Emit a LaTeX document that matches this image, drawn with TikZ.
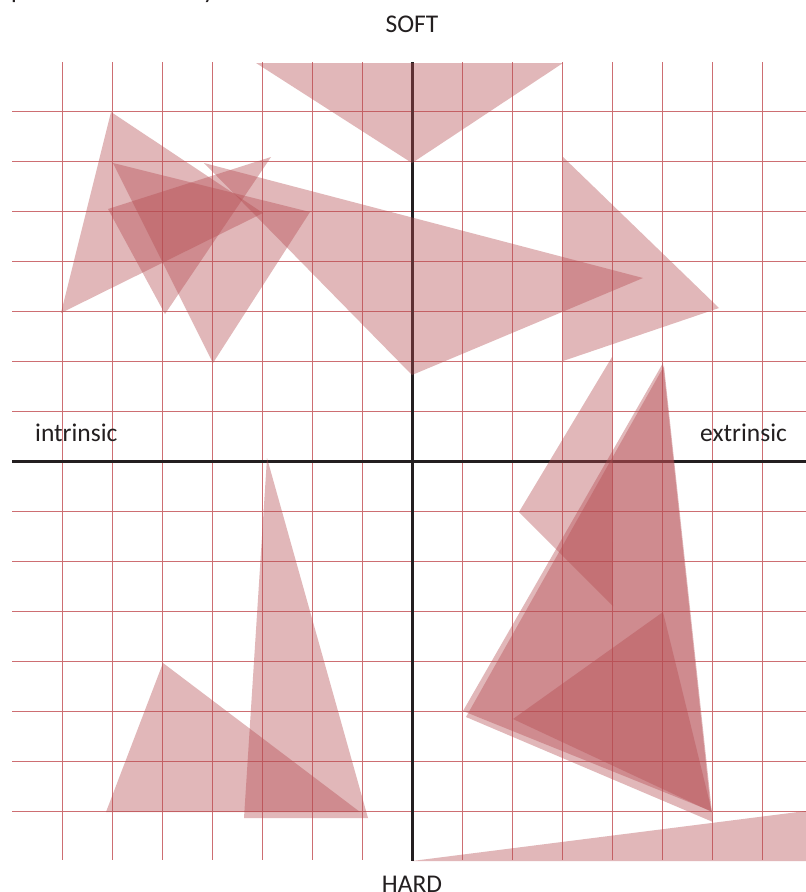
\documentclass[tikz,border=0pt]{standalone}
\usepackage{fontspec}
\setmainfont{Carlito}
\definecolor{gridred}{RGB}{205,110,114}
\definecolor{trired}{RGB}{180,75,80}
\definecolor{inkdark}{RGB}{35,31,32}
\begin{document}
\begin{tikzpicture}[x=1pt,y=-1pt,
  gridline/.style={draw=gridred,line width=1.2pt},
  axisline/.style={draw=inkdark,line width=3pt},
  tri/.style={fill=trired,fill opacity=0.4},
  lbl/.style={text=inkdark,font=\fontsize{25.5}{30}\selectfont,inner sep=0pt}]
\useasboundingbox (0,0) rectangle (806,892);
\clip (0,0) rectangle (806,892);
\fill[white] (0,0) rectangle (806,892);
% cut-off title fragments at the very top
\node[lbl,anchor=base west] (titleA) at (11,-2) {p};
\node[lbl,anchor=base west] (titleB) at (203,-2) {y};
% grid
\foreach \x in {62,112,...,762} \draw[gridline] (\x+0.5,62) -- (\x+0.5,860);
\foreach \y in {111,161,...,811} \draw[gridline] (12,\y+0.5) -- (806,\y+0.5);
% axes
\draw[axisline] (412.5,62) -- (412.5,861);
\draw[axisline] (12,461.5) -- (806,461.5);
% triangles
\fill[tri] (256,63) -- (563,63) -- (412,163) -- cycle;
\fill[tri] (111,112) -- (61,313) -- (263,213) -- cycle;
\fill[tri] (113,163) -- (310,212) -- (213,363) -- cycle;
\fill[tri] (108,209) -- (271,157) -- (165,314) -- cycle;
\fill[tri] (204,163) -- (643,278) -- (412,375) -- cycle;
\fill[tri] (563,157) -- (719,308) -- (563,361) -- cycle;
\fill[tri] (612,357) -- (519,512) -- (613,606) -- cycle;
\fill[tri] (663,363) -- (463,711) -- (711,811) -- cycle;
\fill[tri] (664,366) -- (466,717) -- (713,822) -- cycle;
\fill[tri] (663,612) -- (513,719) -- (712,812) -- cycle;
\fill[tri] (412,861) -- (806,811) -- (806,861) -- cycle;
\fill[tri] (267,458) -- (244,818) -- (368,818) -- cycle;
\fill[tri] (163,663) -- (106,812) -- (360,812) -- cycle;
% labels
\node[lbl,anchor=base] (soft) at (412,32) {SOFT};
\node[lbl,anchor=base] (hard) at (412,892) {HARD};
\node[lbl,anchor=base west] (intr) at (35,441) {intrinsic};
\node[lbl,anchor=base west] (extr) at (700,441) {extrinsic};
\end{tikzpicture}
\end{document}
